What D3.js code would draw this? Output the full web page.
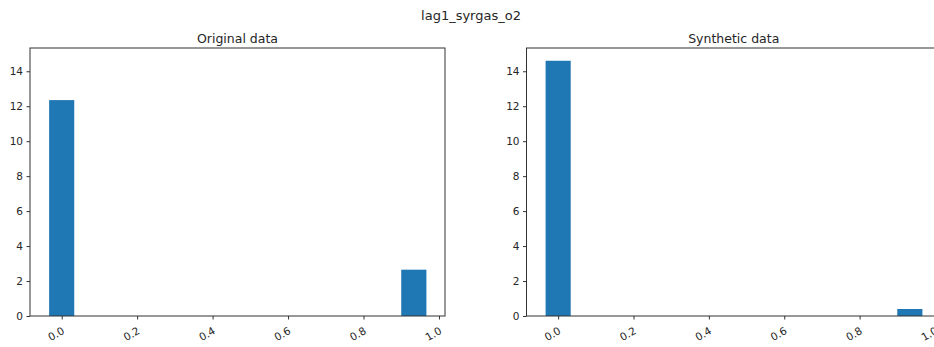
<!DOCTYPE html>
<html>
<head>
<meta charset="utf-8">
<script src="https://cdn.jsdelivr.net/npm/d3@7"></script>
<style>
  body { margin: 0; background: #fff; }
  text { font-family: "DejaVu Sans", sans-serif; fill: #262626; }
</style>
</head>
<body>
<div id="chart"></div>
<script>
const suptitle = "lag1_syrgas_o2";
const panelTitles = ["Original data", "Synthetic data"];

// histogram bin edges (15 bins) and densities
const binEdges = [-0.0333, 0.0333, 0.1, 0.1667, 0.2333, 0.3, 0.3667, 0.4333, 0.5,
                  0.5667, 0.6333, 0.7, 0.7667, 0.8333, 0.9, 0.9667];
const originalDensity = [12.35, 0, 0, 0, 0, 0, 0, 0, 0, 0, 0, 0, 0, 0, 2.65];
const syntheticDensity = [14.6, 0, 0, 0, 0, 0, 0, 0, 0, 0, 0, 0, 0, 0, 0.4];

const xTicks = [0, 0.2, 0.4, 0.6, 0.8, 1.0];
const yTicks = [0, 2, 4, 6, 8, 10, 12, 14];

const W = 934, H = 347;
const svg = d3.select("#chart").append("svg")
  .attr("width", W).attr("height", H);

svg.append("text")
  .attr("x", 471).attr("y", 20)
  .attr("text-anchor", "middle")
  .style("font-size", "13px")
  .text(suptitle);

// the right panel runs past the picture's edge, as in the original
const panels = [
  {left: 30, right: 445, values: originalDensity, title: panelTitles[0]},
  {left: 526.5, right: 941, values: syntheticDensity, title: panelTitles[1]}
];
const axTop = 48, axBottom = 316;

const y = d3.scaleLinear().domain([0, 15.33]).range([axBottom, axTop]);

panels.forEach(p => {
  const x = d3.scaleLinear().domain([-0.084, 1.016]).range([p.left, p.right]);
  const g = svg.append("g");

  const bins = p.values.map((v, i) => ({x0: binEdges[i], x1: binEdges[i + 1], v}));
  g.selectAll("rect.bar")
    .data(bins.filter(d => d.v > 0))
    .enter().append("rect")
    .attr("class", "bar")
    .attr("x", d => x(d.x0))
    .attr("width", d => x(d.x1) - x(d.x0))
    .attr("y", d => y(d.v))
    .attr("height", d => y(0) - y(d.v))
    .style("fill", "#1f77b4");

  // frame
  g.append("rect")
    .attr("x", p.left).attr("y", axTop)
    .attr("width", p.right - p.left).attr("height", axBottom - axTop)
    .style("fill", "none").style("stroke", "#333").style("stroke-width", 1);

  const yAxis = g.append("g")
    .attr("transform", `translate(${p.left},0)`)
    .call(d3.axisLeft(y).tickValues(yTicks).tickSize(3.5).tickPadding(3.5).tickFormat(d3.format("d")));
  yAxis.select(".domain").remove();
  yAxis.selectAll("line").style("stroke", "#333");
  yAxis.selectAll("text").style("font-size", "10.5px").style("fill", "#262626");

  const xAxis = g.append("g")
    .attr("transform", `translate(0,${axBottom})`)
    .call(d3.axisBottom(x).tickValues(xTicks).tickSize(3.5).tickFormat(d3.format(".1f")));
  xAxis.select(".domain").remove();
  xAxis.selectAll("line").style("stroke", "#333");
  xAxis.selectAll("text")
    .style("font-size", "10.5px").style("fill", "#262626")
    .attr("text-anchor", "end")
    .attr("dy", null)
    .attr("y", 0)
    .attr("transform", "translate(3,17) rotate(-30)");

  g.append("text")
    .attr("x", (p.left + p.right) / 2).attr("y", 43)
    .attr("text-anchor", "middle")
    .style("font-size", "12.5px")
    .text(p.title);
});
</script>
</body>
</html>
